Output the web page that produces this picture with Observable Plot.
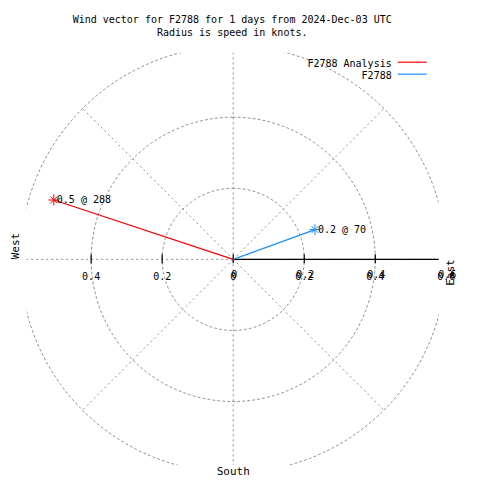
<!DOCTYPE html>
<html><head><meta charset="utf-8">
<script src="https://cdn.jsdelivr.net/npm/d3@7"></script>
<script src="https://cdn.jsdelivr.net/npm/@observablehq/plot@0.6"></script>
<style>body{margin:0;background:#fff} #chart{width:480px;height:480px}</style>
</head><body><div id="chart"></div>
<script>
const titleLines = ["Wind vector for F2788 for 1 days from 2024-Dec-03 UTC", "Radius is speed in knots."];
const seriesNames = ["F2788 Analysis", "F2788"];
const speeds = [0.532, 0.245];
const directions = [288.3, 70];
const vectorLabels = ["0.5 @ 288", "0.2 @ 70"];
const seriesColors = ["#ff0000", "#1e90ff"];
const ringRadii = [0.2, 0.4, 0.6];
const spokeAngles = [0, 45, 90, 135, 180, 225, 270, 315];
const tickValues = [-0.4, -0.2, 0, 0.2, 0.4, 0.6];
const tickLabels = ["0.4", "0.2", "0", "0.2", "0.4", "0.6"];
const compassLabels = ["West", "East", "South"];
const rMax = 0.58;

const rad = d => d * Math.PI / 180;
const ringPts = [];
ringRadii.forEach(r => { for (let a = 0; a <= 360; a += 1) ringPts.push({ring: r, x: r * Math.sin(rad(a)), y: r * Math.cos(rad(a))}); });
const spokeLen = ringRadii[ringRadii.length - 1];
const vectors = seriesNames.map((name, i) => ({
  name, label: vectorLabels[i],
  x: speeds[i] * Math.sin(rad(directions[i])),
  y: speeds[i] * Math.cos(rad(directions[i]))
}));
const tk = 4.5 / 355.2;
const grey = {stroke: "#8e8e8e", strokeDasharray: "2,3", strokeWidth: 1};
const mid = {lineAnchor: "middle"};

const legendLines = (index, scales, values, dims) => {
  const g = d3.create("svg:g");
  const right = dims.width - dims.marginRight;
  seriesNames.forEach((n, i) => {
    g.append("line").attr("x1", right - 41).attr("x2", right - 12)
      .attr("y1", dims.marginTop + 9.5 + 12 * i).attr("y2", dims.marginTop + 9.5 + 12 * i)
      .attr("stroke", seriesColors[i]).attr("stroke-width", 1.2);
  });
  return g.node();
};

const plot = Plot.plot({
  width: 480, height: 480,
  marginLeft: 26.7, marginRight: 41.3, marginTop: 52.7, marginBottom: 15,
  x: {domain: [-rMax, rMax], axis: null},
  y: {domain: [-rMax, rMax], axis: null},
  color: {domain: seriesNames, range: seriesColors},
  style: {fontFamily: "'DejaVu Sans Mono', monospace", fontSize: "10px", background: "#fff", color: "#000"},
  marks: [
    Plot.line(ringPts, {x: "x", y: "y", z: "ring", ...grey, clip: true}),
    Plot.link(spokeAngles, {x1: () => 0, y1: () => 0, x2: a => spokeLen * Math.sin(rad(a)), y2: a => spokeLen * Math.cos(rad(a)), ...grey, clip: true}),
    Plot.ruleY([0], {x1: 0, x2: rMax, stroke: "#000", strokeWidth: 1.2}),
    Plot.ruleX(tickValues.filter(v => Math.abs(v) < 0.5), {x: d => d, y1: -tk, y2: tk, stroke: "#000", strokeWidth: 1.2}),
    Plot.text(tickValues, {x: d => d, y: () => 0, text: (d, i) => tickLabels[i], dy: 17, ...mid}),
    Plot.text(tickValues.filter(v => v >= 0), {x: d => d, y: () => 0, text: d => tickLabels[tickValues.indexOf(d)], dy: 15, dx: 1, ...mid}),
    Plot.link(vectors, {x1: () => 0, y1: () => 0, x2: "x", y2: "y", stroke: "name", strokeWidth: 1.2}),
    Plot.dot(vectors, {x: "x", y: "y", symbol: "plus", r: 3.6, stroke: "name", fill: "none", strokeWidth: 1}),
    Plot.dot(vectors, {x: "x", y: "y", symbol: "times", r: 3.2, stroke: "name", fill: "none", strokeWidth: 1}),
    Plot.text(vectors, {x: "x", y: "y", text: "label", textAnchor: "start", dx: 3, ...mid}),
    Plot.text([compassLabels[0]], {frameAnchor: "left", dx: -12, rotate: -90, fontSize: 11, ...mid}),
    Plot.text([compassLabels[1]], {frameAnchor: "right", dx: 11.5, rotate: -90, fontSize: 11, ...mid}),
    Plot.text([compassLabels[2]], {frameAnchor: "bottom", dy: 6, fontSize: 11, ...mid}),
    Plot.text([titleLines[0]], {frameAnchor: "top", dy: -33, dx: -1, ...mid}),
    Plot.text([titleLines[1]], {frameAnchor: "top", dy: -20, dx: -1, ...mid}),
    Plot.text([seriesNames[0]], {frameAnchor: "top-right", textAnchor: "end", dx: -47.5, dy: 10.5, ...mid}),
    Plot.text([seriesNames[1]], {frameAnchor: "top-right", textAnchor: "end", dx: -47.5, dy: 22.5, ...mid}),
    legendLines
  ]
});
document.getElementById("chart").append(plot);
</script>
</body></html>
